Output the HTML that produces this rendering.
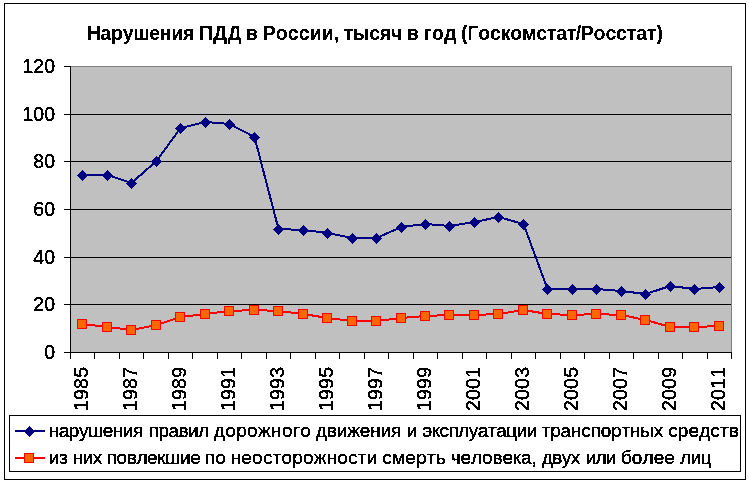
<!DOCTYPE html>
<html lang="ru"><head><meta charset="utf-8"><title>Нарушения ПДД в России</title>
<style>html,body{margin:0;padding:0;background:#fff}svg{display:block}text{font-family:"Liberation Sans",Arial,sans-serif;fill:#000;font-kerning:none;stroke:#000;stroke-width:0.35px;stroke-linejoin:round}text.b{stroke-width:0.1px}</style>
</head><body>
<svg width="749" height="484" viewBox="0 0 749 484">
<rect width="749" height="484" fill="#fff"/>
<g shape-rendering="crispEdges">
<rect x="4.5" y="3.5" width="741" height="476" fill="#fff" stroke="#000" stroke-width="1"/>
<rect x="71" y="66" width="661" height="286" fill="#c0c0c0"/>
<rect x="71" y="66" width="661" height="1" fill="#808080"/>
<rect x="731" y="66" width="1" height="287" fill="#808080"/>
<rect x="71" y="304" width="660" height="1" fill="#000"/>
<rect x="71" y="257" width="660" height="1" fill="#000"/>
<rect x="71" y="209" width="660" height="1" fill="#000"/>
<rect x="71" y="161" width="660" height="1" fill="#000"/>
<rect x="71" y="114" width="660" height="1" fill="#000"/>
<rect x="64" y="352" width="7" height="1" fill="#000"/>
<rect x="64" y="304" width="7" height="1" fill="#000"/>
<rect x="64" y="257" width="7" height="1" fill="#000"/>
<rect x="64" y="209" width="7" height="1" fill="#000"/>
<rect x="64" y="161" width="7" height="1" fill="#000"/>
<rect x="64" y="114" width="7" height="1" fill="#000"/>
<rect x="64" y="66" width="7" height="1" fill="#000"/>
<rect x="70" y="66" width="1" height="293" fill="#000"/>
<rect x="70" y="352" width="662" height="1" fill="#000"/>
<rect x="70" y="352" width="1" height="7" fill="#000"/>
<rect x="94" y="352" width="1" height="7" fill="#000"/>
<rect x="119" y="352" width="1" height="7" fill="#000"/>
<rect x="143" y="352" width="1" height="7" fill="#000"/>
<rect x="168" y="352" width="1" height="7" fill="#000"/>
<rect x="192" y="352" width="1" height="7" fill="#000"/>
<rect x="217" y="352" width="1" height="7" fill="#000"/>
<rect x="241" y="352" width="1" height="7" fill="#000"/>
<rect x="266" y="352" width="1" height="7" fill="#000"/>
<rect x="290" y="352" width="1" height="7" fill="#000"/>
<rect x="315" y="352" width="1" height="7" fill="#000"/>
<rect x="339" y="352" width="1" height="7" fill="#000"/>
<rect x="364" y="352" width="1" height="7" fill="#000"/>
<rect x="388" y="352" width="1" height="7" fill="#000"/>
<rect x="413" y="352" width="1" height="7" fill="#000"/>
<rect x="437" y="352" width="1" height="7" fill="#000"/>
<rect x="462" y="352" width="1" height="7" fill="#000"/>
<rect x="486" y="352" width="1" height="7" fill="#000"/>
<rect x="511" y="352" width="1" height="7" fill="#000"/>
<rect x="535" y="352" width="1" height="7" fill="#000"/>
<rect x="560" y="352" width="1" height="7" fill="#000"/>
<rect x="584" y="352" width="1" height="7" fill="#000"/>
<rect x="609" y="352" width="1" height="7" fill="#000"/>
<rect x="633" y="352" width="1" height="7" fill="#000"/>
<rect x="658" y="352" width="1" height="7" fill="#000"/>
<rect x="682" y="352" width="1" height="7" fill="#000"/>
<rect x="707" y="352" width="1" height="7" fill="#000"/>
<rect x="731" y="352" width="1" height="7" fill="#000"/>
</g>
<polyline points="82.5,175 107.5,175 131.5,183 156.5,161 180.5,128 205.5,122 229.5,124 254.5,137 278.5,229 303.5,230 327.5,233 352.5,238 376.5,238 401.5,227 425.5,224 449.5,226 474.5,222 498.5,217 523.5,224 547.5,289 572.5,289 596.5,289 621.5,291 645.5,294 670.5,286 694.5,289 719.5,287" fill="none" stroke="#000080" stroke-width="2" shape-rendering="crispEdges"/>
<polyline points="82.5,324 107.5,327 131.5,330 156.5,325 180.5,317 205.5,314 229.5,311 254.5,310 278.5,311 303.5,314 327.5,318 352.5,321 376.5,321 401.5,318 425.5,316 449.5,315 474.5,315 498.5,314 523.5,310 547.5,314 572.5,315 596.5,314 621.5,315 645.5,320 670.5,327 694.5,327 719.5,326" fill="none" stroke="#ff0000" stroke-width="2" shape-rendering="crispEdges"/>
<g shape-rendering="crispEdges">
<polygon points="77.0,175.5 82.5,170.0 88.0,175.5 82.5,181.0" fill="#000080"/>
<polygon points="102.0,175.5 107.5,170.0 113.0,175.5 107.5,181.0" fill="#000080"/>
<polygon points="126.0,183.5 131.5,178.0 137.0,183.5 131.5,189.0" fill="#000080"/>
<polygon points="151.0,161.5 156.5,156.0 162.0,161.5 156.5,167.0" fill="#000080"/>
<polygon points="175.0,128.5 180.5,123.0 186.0,128.5 180.5,134.0" fill="#000080"/>
<polygon points="200.0,122.5 205.5,117.0 211.0,122.5 205.5,128.0" fill="#000080"/>
<polygon points="224.0,124.5 229.5,119.0 235.0,124.5 229.5,130.0" fill="#000080"/>
<polygon points="249.0,137.5 254.5,132.0 260.0,137.5 254.5,143.0" fill="#000080"/>
<polygon points="273.0,229.5 278.5,224.0 284.0,229.5 278.5,235.0" fill="#000080"/>
<polygon points="298.0,230.5 303.5,225.0 309.0,230.5 303.5,236.0" fill="#000080"/>
<polygon points="322.0,233.5 327.5,228.0 333.0,233.5 327.5,239.0" fill="#000080"/>
<polygon points="347.0,238.5 352.5,233.0 358.0,238.5 352.5,244.0" fill="#000080"/>
<polygon points="371.0,238.5 376.5,233.0 382.0,238.5 376.5,244.0" fill="#000080"/>
<polygon points="396.0,227.5 401.5,222.0 407.0,227.5 401.5,233.0" fill="#000080"/>
<polygon points="420.0,224.5 425.5,219.0 431.0,224.5 425.5,230.0" fill="#000080"/>
<polygon points="444.0,226.5 449.5,221.0 455.0,226.5 449.5,232.0" fill="#000080"/>
<polygon points="469.0,222.5 474.5,217.0 480.0,222.5 474.5,228.0" fill="#000080"/>
<polygon points="493.0,217.5 498.5,212.0 504.0,217.5 498.5,223.0" fill="#000080"/>
<polygon points="518.0,224.5 523.5,219.0 529.0,224.5 523.5,230.0" fill="#000080"/>
<polygon points="542.0,289.5 547.5,284.0 553.0,289.5 547.5,295.0" fill="#000080"/>
<polygon points="567.0,289.5 572.5,284.0 578.0,289.5 572.5,295.0" fill="#000080"/>
<polygon points="591.0,289.5 596.5,284.0 602.0,289.5 596.5,295.0" fill="#000080"/>
<polygon points="616.0,291.5 621.5,286.0 627.0,291.5 621.5,297.0" fill="#000080"/>
<polygon points="640.0,294.5 645.5,289.0 651.0,294.5 645.5,300.0" fill="#000080"/>
<polygon points="665.0,286.5 670.5,281.0 676.0,286.5 670.5,292.0" fill="#000080"/>
<polygon points="689.0,289.5 694.5,284.0 700.0,289.5 694.5,295.0" fill="#000080"/>
<polygon points="714.0,287.5 719.5,282.0 725.0,287.5 719.5,293.0" fill="#000080"/>
<rect x="77.5" y="319.5" width="9" height="9" fill="#ff6600" stroke="#ff0000" stroke-width="1"/>
<rect x="102.5" y="322.5" width="9" height="9" fill="#ff6600" stroke="#ff0000" stroke-width="1"/>
<rect x="126.5" y="325.5" width="9" height="9" fill="#ff6600" stroke="#ff0000" stroke-width="1"/>
<rect x="151.5" y="320.5" width="9" height="9" fill="#ff6600" stroke="#ff0000" stroke-width="1"/>
<rect x="175.5" y="312.5" width="9" height="9" fill="#ff6600" stroke="#ff0000" stroke-width="1"/>
<rect x="200.5" y="309.5" width="9" height="9" fill="#ff6600" stroke="#ff0000" stroke-width="1"/>
<rect x="224.5" y="306.5" width="9" height="9" fill="#ff6600" stroke="#ff0000" stroke-width="1"/>
<rect x="249.5" y="305.5" width="9" height="9" fill="#ff6600" stroke="#ff0000" stroke-width="1"/>
<rect x="273.5" y="306.5" width="9" height="9" fill="#ff6600" stroke="#ff0000" stroke-width="1"/>
<rect x="298.5" y="309.5" width="9" height="9" fill="#ff6600" stroke="#ff0000" stroke-width="1"/>
<rect x="322.5" y="313.5" width="9" height="9" fill="#ff6600" stroke="#ff0000" stroke-width="1"/>
<rect x="347.5" y="316.5" width="9" height="9" fill="#ff6600" stroke="#ff0000" stroke-width="1"/>
<rect x="371.5" y="316.5" width="9" height="9" fill="#ff6600" stroke="#ff0000" stroke-width="1"/>
<rect x="396.5" y="313.5" width="9" height="9" fill="#ff6600" stroke="#ff0000" stroke-width="1"/>
<rect x="420.5" y="311.5" width="9" height="9" fill="#ff6600" stroke="#ff0000" stroke-width="1"/>
<rect x="444.5" y="310.5" width="9" height="9" fill="#ff6600" stroke="#ff0000" stroke-width="1"/>
<rect x="469.5" y="310.5" width="9" height="9" fill="#ff6600" stroke="#ff0000" stroke-width="1"/>
<rect x="493.5" y="309.5" width="9" height="9" fill="#ff6600" stroke="#ff0000" stroke-width="1"/>
<rect x="518.5" y="305.5" width="9" height="9" fill="#ff6600" stroke="#ff0000" stroke-width="1"/>
<rect x="542.5" y="309.5" width="9" height="9" fill="#ff6600" stroke="#ff0000" stroke-width="1"/>
<rect x="567.5" y="310.5" width="9" height="9" fill="#ff6600" stroke="#ff0000" stroke-width="1"/>
<rect x="591.5" y="309.5" width="9" height="9" fill="#ff6600" stroke="#ff0000" stroke-width="1"/>
<rect x="616.5" y="310.5" width="9" height="9" fill="#ff6600" stroke="#ff0000" stroke-width="1"/>
<rect x="640.5" y="315.5" width="9" height="9" fill="#ff6600" stroke="#ff0000" stroke-width="1"/>
<rect x="665.5" y="322.5" width="9" height="9" fill="#ff6600" stroke="#ff0000" stroke-width="1"/>
<rect x="689.5" y="322.5" width="9" height="9" fill="#ff6600" stroke="#ff0000" stroke-width="1"/>
<rect x="714.5" y="321.5" width="9" height="9" fill="#ff6600" stroke="#ff0000" stroke-width="1"/>
</g>
<defs><filter id="bw" x="0" y="0" width="749" height="484" filterUnits="userSpaceOnUse" color-interpolation-filters="sRGB"><feComponentTransfer><feFuncA type="discrete" tableValues="0 1"/></feComponentTransfer></filter></defs>
<g filter="url(#bw)">
<text y="40" font-size="19.5" font-weight="bold" class="b" xml:space="preserve"><tspan x="86.7" letter-spacing="-0.282">Нарушения </tspan><tspan x="198.7" letter-spacing="0.429">ПДД </tspan><tspan x="245.64" letter-spacing="0">в </tspan><tspan x="262.7" letter-spacing="0.101">России, </tspan><tspan x="343.45" letter-spacing="-0.211">тысяч </tspan><tspan x="406.64" letter-spacing="0">в </tspan><tspan x="423.64" letter-spacing="0.156">год </tspan><tspan x="461.03" letter-spacing="-0.168">(Госкомстат</tspan><tspan x="575.81" letter-spacing="0">/</tspan><tspan x="580.7" letter-spacing="-0.11">Росстат)</tspan></text>
<text x="55" y="359" font-size="19.5" text-anchor="end">0</text>
<text x="55" y="311" font-size="19.5" text-anchor="end">20</text>
<text x="55" y="264" font-size="19.5" text-anchor="end">40</text>
<text x="55" y="216" font-size="19.5" text-anchor="end">60</text>
<text x="55" y="168" font-size="19.5" text-anchor="end">80</text>
<text x="55" y="121" font-size="19.5" text-anchor="end">100</text>
<text x="55" y="73" font-size="19.5" text-anchor="end">120</text>
<text transform="translate(88,411) rotate(-90)" font-size="19.5" textLength="44" lengthAdjust="spacing">1985</text>
<text transform="translate(137,411) rotate(-90)" font-size="19.5" textLength="44" lengthAdjust="spacing">1987</text>
<text transform="translate(186,411) rotate(-90)" font-size="19.5" textLength="44" lengthAdjust="spacing">1989</text>
<text transform="translate(235,411) rotate(-90)" font-size="19.5" textLength="44" lengthAdjust="spacing">1991</text>
<text transform="translate(284,411) rotate(-90)" font-size="19.5" textLength="44" lengthAdjust="spacing">1993</text>
<text transform="translate(333,411) rotate(-90)" font-size="19.5" textLength="44" lengthAdjust="spacing">1995</text>
<text transform="translate(382,411) rotate(-90)" font-size="19.5" textLength="44" lengthAdjust="spacing">1997</text>
<text transform="translate(431,411) rotate(-90)" font-size="19.5" textLength="44" lengthAdjust="spacing">1999</text>
<text transform="translate(480,411) rotate(-90)" font-size="19.5" textLength="44" lengthAdjust="spacing">2001</text>
<text transform="translate(529,411) rotate(-90)" font-size="19.5" textLength="44" lengthAdjust="spacing">2003</text>
<text transform="translate(578,411) rotate(-90)" font-size="19.5" textLength="44" lengthAdjust="spacing">2005</text>
<text transform="translate(627,411) rotate(-90)" font-size="19.5" textLength="44" lengthAdjust="spacing">2007</text>
<text transform="translate(676,411) rotate(-90)" font-size="19.5" textLength="44" lengthAdjust="spacing">2009</text>
<text transform="translate(725,411) rotate(-90)" font-size="19.5" textLength="44" lengthAdjust="spacing">2011</text>
</g>
<g shape-rendering="crispEdges">
<rect x="9.5" y="415.5" width="731" height="56" fill="#fff" stroke="#000" stroke-width="1"/>
<rect x="15" y="430" width="30" height="2" fill="#000080"/>
<polygon points="24,431.5 29.5,426 35,431.5 29.5,437" fill="#000080"/>
<rect x="15" y="457" width="30" height="2" fill="#ff0000"/>
<rect x="24.5" y="453.5" width="9" height="9" fill="#ff6600" stroke="#ff0000" stroke-width="1"/>
</g>
<g filter="url(#bw)">
<text y="436.75" font-size="19" xml:space="preserve"><tspan x="48.68" letter-spacing="-0.462">нарушения </tspan><tspan x="148.68" letter-spacing="-0.516">правил </tspan><tspan x="213.81" letter-spacing="0.366">дорожного </tspan><tspan x="315.81" letter-spacing="-0.137">движения </tspan><tspan x="406.68" letter-spacing="0">и </tspan><tspan x="422.49" letter-spacing="-0.5">эксплуатации </tspan><tspan x="541.68" letter-spacing="-0.188">транспортных </tspan><tspan x="668.19" letter-spacing="0.103">средств</tspan></text>
<text y="463.75" font-size="19" xml:space="preserve"><tspan x="48.68" letter-spacing="-0.293">из </tspan><tspan x="72.68" letter-spacing="-0.542">них </tspan><tspan x="106.68" letter-spacing="-0.397">повлекшие </tspan><tspan x="204.68" letter-spacing="0.26">по </tspan><tspan x="230.68" letter-spacing="0.194">неосторожности </tspan><tspan x="382.19" letter-spacing="0.258">смерть </tspan><tspan x="450.87" letter-spacing="-0.137">человека, </tspan><tspan x="541.81" letter-spacing="-0.597">двух </tspan><tspan x="585.68" letter-spacing="-0.839">или </tspan><tspan x="620.89" letter-spacing="0.072">более </tspan><tspan x="679.9" letter-spacing="-0.522">лиц</tspan></text>
</g>
</svg>
</body></html>
